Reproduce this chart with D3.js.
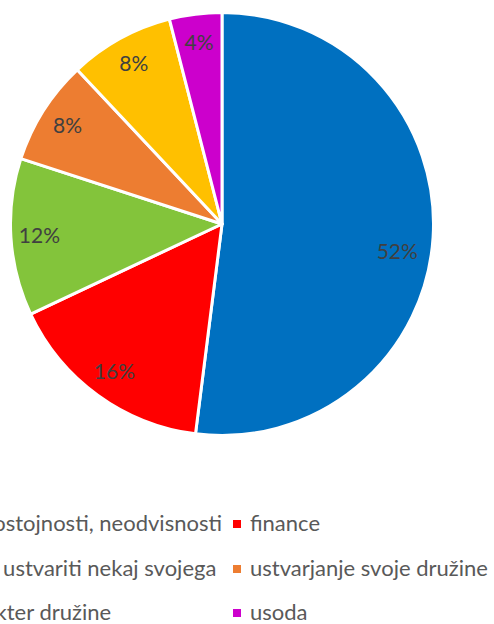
<!DOCTYPE html>
<html><head><meta charset="utf-8">
<script src="https://cdn.jsdelivr.net/npm/d3@7"></script>
<style>html,body{margin:0;padding:0;background:#fff;}svg{display:block;}</style>
</head><body>
<svg id="c" width="494" height="624"></svg>
<script>
const categories = ["samostojnosti, neodvisnosti","finance","želja ustvariti nekaj svojega","ustvarjanje svoje družine","karakter družine","usoda"];
const values = [52,16,12,8,8,4];
const colors = ["#0070C0","#FF0000","#83C43B","#ED7D31","#FFC000","#CC00CC"];

const svg = d3.select("#c");
const cx = 222, cy = 224, r = 211.5;
const font = "Lato, 'Open Sans', sans-serif";
const pie = d3.pie().sort(null).value(d => d)(values);
const arc = d3.arc().innerRadius(0).outerRadius(r);
const labelArc = d3.arc().innerRadius(r*0.865).outerRadius(r*0.865);
const g = svg.append("g").attr("transform",`translate(${cx},${cy})`);
g.selectAll("path").data(pie).join("path")
  .attr("d",arc).attr("fill",(d,i)=>colors[i])
  .attr("stroke","#fff").attr("stroke-width",3).attr("stroke-linejoin","round");
g.selectAll("text").data(pie).join("text")
  .attr("transform",d=>{
    const [x,y] = labelArc.centroid(d);
    return d.index===0 ? `translate(${x*0.96},${y+16})` : `translate(${x},${y})`;
  })
  .attr("text-anchor","middle").attr("dy","0.35em")
  .attr("font-family",font).attr("font-size",21).attr("fill","#404040")
  .text(d=>d.value+"%");

// legend (two columns; the left one runs off the left edge as in the reference)
const rowY = [531,576,620];
const rightX = 250;
const fs = 22;
const leg = svg.append("g");
const items = categories.map((c,i)=>({c,i,col:i%2,row:Math.floor(i/2)}));
const tmp = svg.append("text").attr("font-family",font).attr("font-size",fs).text(categories[0]);
const w0 = tmp.node().getComputedTextLength(); tmp.remove();
const leftX = 222 - w0;
items.forEach(it=>{
  const tx = it.col===0 ? leftX : rightX;
  const y = rowY[it.row];
  leg.append("rect").attr("x",tx-17).attr("y",y-11).attr("width",8).attr("height",8).attr("fill",colors[it.i]);
  leg.append("text").attr("x",tx).attr("y",y).attr("font-family",font).attr("font-size",fs).attr("fill","#595959").text(it.c);
});
</script>
</body></html>
